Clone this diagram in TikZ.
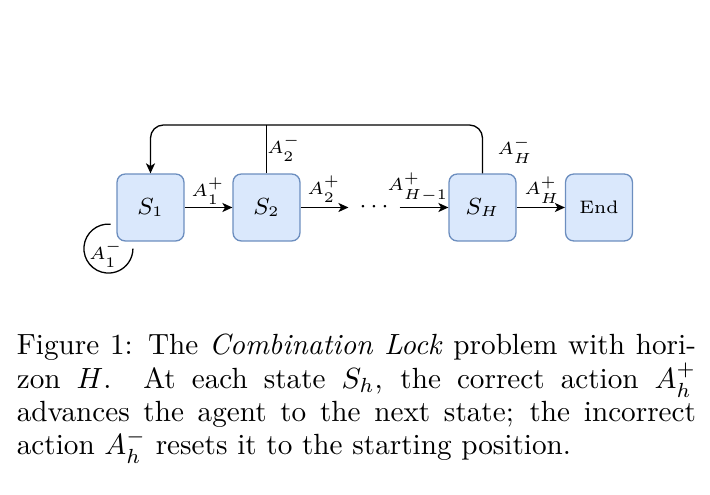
\documentclass[tikz,border=0pt]{standalone}
\usetikzlibrary{arrows.meta}
\definecolor{boxfill}{HTML}{DAE8FC}
\definecolor{boxline}{HTML}{6C8EBF}
\begin{document}
\begin{tikzpicture}[x=0.3425pt,y=0.3425pt,
  state/.style={draw=boxline,fill=boxfill,line width=0.445pt,rounded corners=2.75pt,
    minimum width=22.9pt,minimum height=22.9pt,inner sep=0pt,font=\fontsize{7.6}{9}\selectfont},
  endbox/.style={state,font=\fontsize{6.2}{7}\selectfont},
  lab/.style={inner sep=0pt,font=\fontsize{6.2}{7}\selectfont},
  conn/.style={line width=0.445pt,black},
  arr/.style={conn,-{Stealth[length=3.45pt,width=3.1pt,inset=0.92pt]}}]
\useasboundingbox (0,0) rectangle (710,-495);
% states
\node[state] (S1) at (150.5,-207.5) {$S_1$};
\node[state] (S2) at (266.5,-207.5) {$S_2$};
\node[inner sep=0pt,minimum width=17.1pt,font=\fontsize{7.6}{9}\selectfont] (dots) at (374,-207.5) {$\cdots$};
\node[state] (SH) at (482.5,-207.5) {$S_H$};
\node[endbox] (End) at (599,-207.5) {End};
% forward arrows
\draw[arr] (S1.east) -- (S2.west);
\draw[arr] (S2.east) -- (dots.west);
\draw[arr] (dots.east) -- (SH.west);
\draw[arr] (SH.east) -- (End.west);
% reset path
\coordinate (top) at (266.5,-125);
\draw[arr,rounded corners=4.45pt] (SH.north) |- (top) -| (S1.north);
\draw[conn] (S2.north) -- (top);
% self loop
\draw[conn] ([shift={(-5.86,17.4)}]S1.south west)
  arc[start angle=85,end angle=360,radius=24.5];
% labels
\node[lab] (l1p) at (208,-191) {$A_1^+$};
\node[lab] (l2p) at (324,-189) {$A_2^+$};
\node[lab] (lHmp) at (418,-187) {$A_{H-1}^+$};
\node[lab] (lHp) at (542,-190) {$A_H^+$};
\node[lab] (l2m) at (284,-148) {$A_2^-$};
\node[lab] (lHm) at (515,-150) {$A_H^-$};
\node[lab] (l1m) at (106,-254) {$A_1^-$};
% caption
\node[anchor=base west,inner sep=0pt,text width=232.6pt,align=justify,font=\fontsize{10}{11.4}\selectfont] (cap) at (16.3,-355)
{Figure 1: The \emph{Combination Lock} problem with hori-\linebreak zon $H$.  At each state $S_h$, the correct action $A_h^+$\linebreak advances the agent to the next state; the incorrect\linebreak action $A_h^-$ resets it to the starting position.};
\end{tikzpicture}
\end{document}
